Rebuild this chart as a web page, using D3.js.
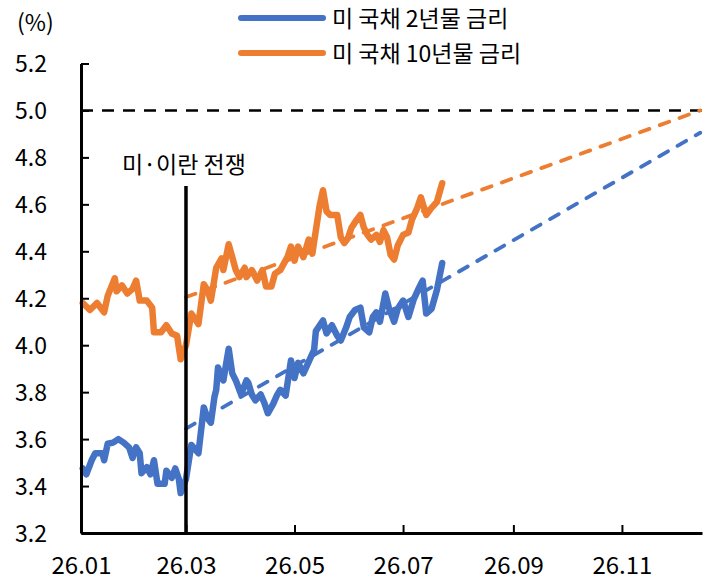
<!DOCTYPE html>
<html>
<head>
<meta charset="utf-8">
<script src="https://cdn.jsdelivr.net/npm/d3@7"></script>
<style>
  html, body { margin: 0; padding: 0; background: #fff; }
  svg text { font-family: "Noto Sans CJK KR", "Noto Sans", sans-serif; fill: #000; }
</style>
</head>
<body>
<svg id="chart" width="709" height="587"></svg>
<script>
// ---- data ----
const dates2y = ["2026-01-02","2026-01-04","2026-01-07","2026-01-09","2026-01-13","2026-01-14","2026-01-16","2026-01-19","2026-01-22","2026-01-25","2026-01-28","2026-01-30","2026-02-01","2026-02-03","2026-02-04","2026-02-07","2026-02-09","2026-02-11","2026-02-13","2026-02-17","2026-02-18","2026-02-21","2026-02-23","2026-02-25","2026-02-26","2026-03-01","2026-03-04","2026-03-08","2026-03-11","2026-03-13","2026-03-15","2026-03-17","2026-03-18","2026-03-19","2026-03-22","2026-03-25","2026-03-27","2026-03-29","2026-04-01","2026-04-04","2026-04-05","2026-04-07","2026-04-09","2026-04-12","2026-04-14","2026-04-16","2026-04-19","2026-04-21","2026-04-23","2026-04-26","2026-04-29","2026-05-01","2026-05-03","2026-05-06","2026-05-09","2026-05-12","2026-05-13","2026-05-17","2026-05-19","2026-05-22","2026-05-25","2026-05-27","2026-05-30","2026-06-01","2026-06-04","2026-06-07","2026-06-09","2026-06-12","2026-06-14","2026-06-16","2026-06-18","2026-06-21","2026-06-23","2026-06-26","2026-06-28","2026-07-01","2026-07-04","2026-07-07","2026-07-10","2026-07-12","2026-07-14","2026-07-17","2026-07-20","2026-07-23"];
const values2y = [3.475,3.45,3.51,3.54,3.54,3.51,3.58,3.585,3.60,3.585,3.565,3.52,3.565,3.54,3.455,3.48,3.45,3.51,3.41,3.41,3.465,3.435,3.475,3.43,3.37,3.43,3.575,3.54,3.735,3.69,3.67,3.78,3.81,3.905,3.85,3.985,3.88,3.85,3.79,3.85,3.84,3.79,3.765,3.79,3.755,3.71,3.75,3.785,3.81,3.785,3.935,3.86,3.925,3.88,3.93,3.98,4.06,4.105,4.05,4.085,4.04,4.02,4.075,4.12,4.15,4.16,4.075,4.055,4.12,4.14,4.10,4.22,4.16,4.10,4.155,4.19,4.12,4.195,4.245,4.275,4.135,4.155,4.235,4.35];

const dates10y = ["2026-01-02","2026-01-06","2026-01-10","2026-01-14","2026-01-16","2026-01-20","2026-01-21","2026-01-24","2026-01-27","2026-01-30","2026-02-01","2026-02-03","2026-02-07","2026-02-10","2026-02-11","2026-02-15","2026-02-18","2026-02-21","2026-02-24","2026-02-26","2026-03-01","2026-03-04","2026-03-08","2026-03-11","2026-03-13","2026-03-15","2026-03-18","2026-03-21","2026-03-22","2026-03-25","2026-03-27","2026-03-29","2026-03-31","2026-04-03","2026-04-04","2026-04-07","2026-04-10","2026-04-13","2026-04-15","2026-04-18","2026-04-20","2026-04-23","2026-04-27","2026-04-29","2026-05-01","2026-05-03","2026-05-06","2026-05-09","2026-05-11","2026-05-13","2026-05-15","2026-05-17","2026-05-19","2026-05-21","2026-05-25","2026-05-27","2026-05-29","2026-05-31","2026-06-02","2026-06-05","2026-06-07","2026-06-09","2026-06-11","2026-06-13","2026-06-16","2026-06-18","2026-06-20","2026-06-22","2026-06-24","2026-06-26","2026-06-28","2026-07-01","2026-07-04","2026-07-06","2026-07-09","2026-07-11","2026-07-14","2026-07-17","2026-07-20","2026-07-23"];
const values10y = [4.18,4.15,4.18,4.14,4.21,4.285,4.23,4.255,4.22,4.24,4.275,4.19,4.19,4.16,4.055,4.055,4.085,4.05,4.04,3.94,4.00,4.135,4.09,4.26,4.235,4.19,4.33,4.37,4.32,4.43,4.375,4.32,4.29,4.33,4.29,4.32,4.275,4.32,4.25,4.25,4.305,4.32,4.375,4.42,4.36,4.42,4.375,4.45,4.39,4.49,4.59,4.66,4.57,4.555,4.555,4.46,4.435,4.455,4.50,4.535,4.555,4.50,4.47,4.45,4.47,4.44,4.49,4.46,4.385,4.365,4.425,4.47,4.48,4.535,4.585,4.63,4.555,4.585,4.61,4.69];

const trendDates = ["2026-03-01","2026-12-15"];
const trend2y = [3.645, 4.905];
const trend10y = [4.205, 5.0];

const refLevel = 5.0;
const eventDate = "2026-03-01";
const eventLabel = "미·이란 전쟁";

const xTickDates = ["2026-01-01","2026-03-01","2026-05-01","2026-07-01","2026-09-01","2026-11-01"];
const xTickLabels = ["26.01","26.03","26.05","26.07","26.09","26.11"];
const yTicks = [3.2,3.4,3.6,3.8,4.0,4.2,4.4,4.6,4.8,5.0,5.2];

const seriesNames = ["미 국채 2년물 금리","미 국채 10년물 금리"];
const seriesColors = ["#4472C4","#ED7D31"];
const unitLabel = "(%)";

// ---- drawing ----
const parse = d3.timeParse("%Y-%m-%d");
const svg = d3.select("#chart");

const x = d3.scaleTime()
  .domain([parse("2026-01-01"), parse("2026-12-16")])
  .range([81, 702]);
const y = d3.scaleLinear().domain([3.2, 5.2]).range([533, 63.5]);

const line = d3.line().x(d => x(d[0])).y(d => y(d[1]));

// reference 5.0 line
svg.append("line")
  .attr("x1", x.range()[0]).attr("x2", x.range()[1])
  .attr("y1", y(refLevel)).attr("y2", y(refLevel))
  .attr("stroke", "#000").attr("stroke-width", 2.5)
  .attr("stroke-dasharray", "12,9");

// trend dashed lines
const trends = [trend2y, trend10y];
trends.forEach((vals, i) => {
  const pts = trendDates.map((d, k) => [parse(d), vals[k]]);
  svg.append("path")
    .attr("d", line(pts))
    .attr("fill", "none")
    .attr("stroke", seriesColors[i])
    .attr("stroke-width", 3.8)
    .attr("stroke-linecap", "round")
    .attr("stroke-dasharray", "10,11");
});

// solid series
const series = [[dates2y, values2y], [dates10y, values10y]];
series.forEach(([ds, vs], i) => {
  const pts = ds.map((d, k) => [parse(d), vs[k]]);
  svg.append("path")
    .attr("d", line(pts))
    .attr("fill", "none")
    .attr("stroke", seriesColors[i])
    .attr("stroke-width", 6.5)
    .attr("stroke-linejoin", "round")
    .attr("stroke-linecap", "round");
});

// event line
svg.append("line")
  .attr("x1", x(parse(eventDate))).attr("x2", x(parse(eventDate)))
  .attr("y1", 186).attr("y2", y(3.2))
  .attr("stroke", "#000").attr("stroke-width", 3.5);
svg.append("text")
  .attr("x", x(parse(eventDate)) - 2).attr("y", 173)
  .attr("text-anchor", "middle")
  .style("font-size", "23px")
  .text(eventLabel);

// axes
const yAxis = d3.axisLeft(y).tickValues(yTicks).tickFormat(d3.format(".1f"))
  .tickSizeInner(-8).tickSizeOuter(0).tickPadding(34);
const gy = svg.append("g").attr("transform", `translate(${x.range()[0]},0)`).call(yAxis);
gy.select(".domain").attr("stroke-width", 3);
gy.selectAll(".tick line").attr("stroke-width", 2);
gy.selectAll(".tick text").style("font-size", "23px").attr("dy", "0.35em");

const xAxis = d3.axisBottom(x).tickValues(xTickDates.map(parse))
  .tickFormat((d, i) => xTickLabels[i])
  .tickSizeInner(-8).tickSizeOuter(0).tickPadding(24);
const gx = svg.append("g").attr("transform", `translate(0,${y(3.2)})`).call(xAxis);
gx.select(".domain").attr("stroke-width", 3);
gx.selectAll(".tick line").attr("stroke-width", 2);
gx.selectAll(".tick text").style("font-size", "24px");

// unit label
svg.append("text").attr("x", 17).attr("y", 31).style("font-size", "23px").text(unitLabel);

// legend
seriesNames.forEach((name, i) => {
  const ly = 18 + i * 35;
  svg.append("line").attr("x1", 241).attr("x2", 323).attr("y1", ly).attr("y2", ly)
    .attr("stroke", seriesColors[i]).attr("stroke-width", 6).attr("stroke-linecap", "round");
  svg.append("text").attr("x", 332).attr("y", ly + 9)
    .style("font-size", "23px").text(name);
});
</script>
</body>
</html>
